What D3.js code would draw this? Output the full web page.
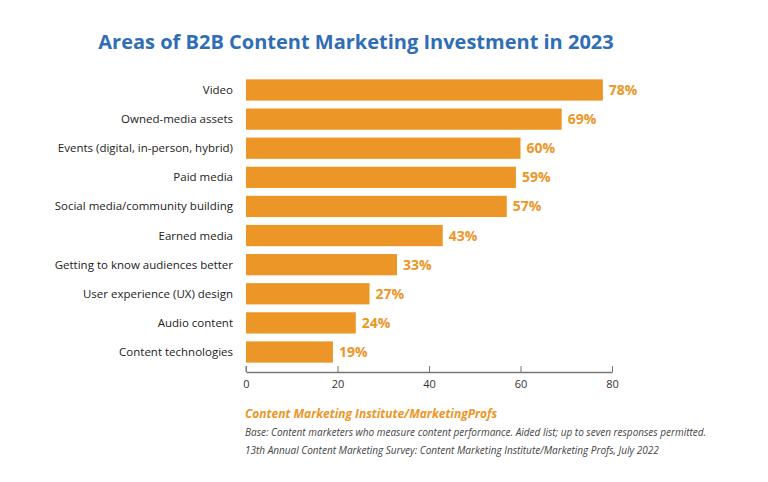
<!DOCTYPE html>
<html><head><meta charset="utf-8">
<script src="https://cdn.jsdelivr.net/npm/d3@7"></script>
<style>body{margin:0;background:#fff;}</style>
</head><body><div id="chart"></div>
<script>
var categories = ["Video", "Owned-media assets", "Events (digital, in-person, hybrid)", "Paid media",
                  "Social media/community building", "Earned media", "Getting to know audiences better",
                  "User experience (UX) design", "Audio content", "Content technologies"];
var values = [78, 69, 60, 59, 57, 43, 33, 27, 24, 19];
var ticks = [0, 20, 40, 60, 80];

var orange = "#ec9627";
var svg = d3.select("#chart").append("svg").attr("width", 768).attr("height", 482);

svg.append("text").attr("x", 356).attr("y", 49).attr("text-anchor", "middle")
    .attr("font-family", "Open Sans").attr("font-weight", "bold").attr("font-size", "20px")
    .attr("fill", "#2f6eb5").text("Areas of B2B Content Marketing Investment in 2023");

var x = d3.scaleLinear().domain([0, 80]).range([246, 612]);
var y = d3.scaleBand().domain(categories).range([75, 367]).paddingInner(0.27).paddingOuter(0.15);

svg.selectAll(".bar").data(values).enter().append("rect")
    .attr("x", x(0)).attr("y", function(d, i){ return y(categories[i]); })
    .attr("width", function(d){ return x(d) - x(0); })
    .attr("height", y.bandwidth()).attr("fill", orange);

svg.selectAll(".val").data(values).enter().append("text")
    .attr("x", function(d){ return x(d) + 6; })
    .attr("y", function(d, i){ return y(categories[i]) + y.bandwidth() / 2 + 5; })
    .attr("font-family", "Open Sans").attr("font-weight", "bold").attr("font-size", "14px")
    .attr("fill", orange).text(function(d){ return d + "%"; });

svg.selectAll(".cat").data(categories).enter().append("text")
    .attr("x", 233).attr("y", function(d){ return y(d) + y.bandwidth() / 2 + 4; })
    .attr("text-anchor", "end").attr("font-family", "Open Sans").attr("font-size", "11.5px")
    .attr("fill", "#222").text(function(d){ return d; });

var axis = svg.append("g").attr("transform", "translate(0,372)")
    .call(d3.axisBottom(x).tickValues(ticks).tickSizeInner(-6).tickSizeOuter(0).tickPadding(8));
axis.select(".domain").attr("stroke", "#777").attr("stroke-width", 1.3);
axis.selectAll(".tick line").attr("stroke", "#777");
axis.selectAll(".tick text").attr("font-family", "Open Sans").attr("font-size", "11px").attr("fill", "#333");
axis.append("line").attr("x1", x(0)).attr("x2", x(0)).attr("y1", -6).attr("y2", 0).attr("stroke", "#777");

var foot = [
  {t: "Content Marketing Institute/MarketingProfs", y: 418, c: orange, w: "bold", s: "12px"},
  {t: "Base: Content marketers who measure content performance. Aided list; up to seven responses permitted.", y: 436, c: "#444", w: "normal", s: "10px"},
  {t: "13th Annual Content Marketing Survey:  Content Marketing Institute/Marketing Profs, July 2022", y: 454, c: "#444", w: "normal", s: "10px"}
];
svg.selectAll(".foot").data(foot).enter().append("text")
    .attr("x", 245).attr("y", function(d){ return d.y; })
    .attr("font-family", "Open Sans").attr("font-style", "italic")
    .attr("font-weight", function(d){ return d.w; }).attr("font-size", function(d){ return d.s; })
    .attr("fill", function(d){ return d.c; }).text(function(d){ return d.t; });
</script></body></html>
